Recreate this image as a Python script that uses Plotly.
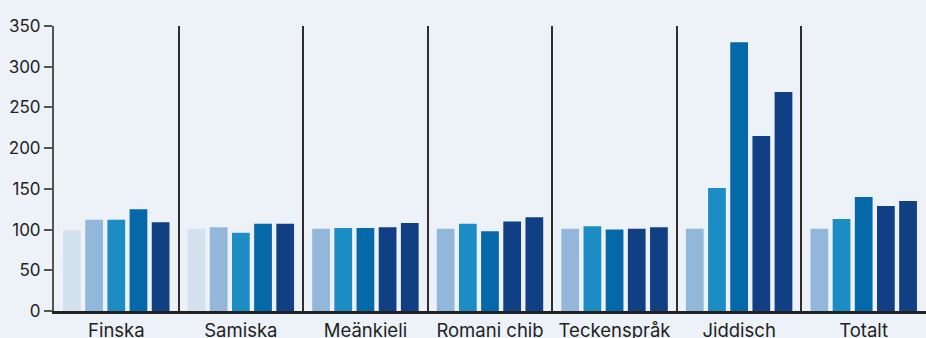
import plotly.graph_objects as go

categories = ["Finska", "Samiska", "Meänkieli", "Romani chib", "Teckenspråk", "Jiddisch", "Totalt"]
bar1 = [99, 101, 101, 101, 101, 101, 101]
bar2 = [112, 103, 102, 107, 104, 151, 113]
bar3 = [112, 96, 102, 98, 100, 330, 140]
bar4 = [125, 107, 103, 110, 101, 215, 129]
bar5 = [109, 107, 108, 115, 103, 269, 135]
series = [bar1, bar2, bar3, bar4, bar5]

C1, C2, C3, C4, C5 = "#d4e2f0", "#93b7db", "#1c8cc5", "#0568a8", "#103f84"
colors = [
    [C1, C1, C2, C2, C2, C2, C2],
    [C2, C2, C3, C3, C3, C3, C3],
    [C3, C3, C4, C4, C4, C4, C4],
    [C4, C4, C5, C5, C5, C5, C5],
    [C5, C5, C5, C5, C5, C5, C5],
]

fig = go.Figure()
for vals, cols in zip(series, colors):
    fig.add_trace(go.Bar(x=categories, y=vals, marker=dict(color=cols, line=dict(width=0)),
                         showlegend=False, hoverinfo="skip"))

FONT = "Inter, Noto Sans, sans-serif"
fig.update_layout(
    width=926, height=338,
    margin=dict(l=54, r=0, t=26, b=27, autoexpand=False),
    paper_bgcolor="#edf2f8", plot_bgcolor="#edf2f8",
    barmode="group", bargap=0.11, bargroupgap=0.2,
    font=dict(family=FONT, size=17, color="#222222"),
)
fig.update_xaxes(
    type="category", tickson="boundaries", ticks="", ticklen=0,
    showgrid=True, gridcolor="#2e2e2a", gridwidth=1.6,
    showline=True, linecolor="#222222", linewidth=2.5,
    tickfont=dict(family=FONT, size=18.5, color="#222222"),
    ticklabelstandoff=1, automargin=False,
)
fig.update_yaxes(
    range=[0, 350], tickvals=[0, 50, 100, 150, 200, 250, 300, 350],
    showgrid=False, zeroline=False, automargin=False,
    showline=True, linecolor="#55554f", linewidth=2,
    ticks="outside", ticklen=8, tickcolor="#55554f", tickwidth=1.5,
    tickfont=dict(family=FONT, size=17, color="#222222"),
)
fig.write_html("out.html")
